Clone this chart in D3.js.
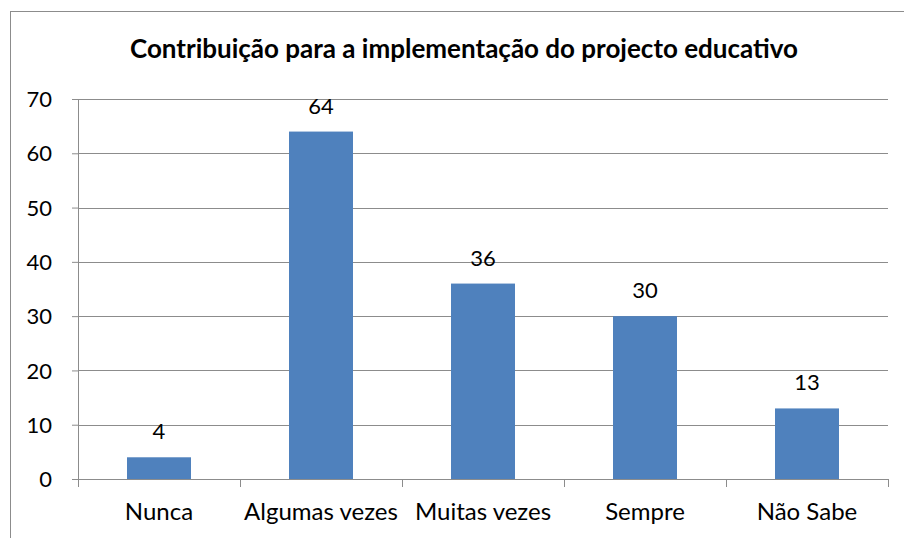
<!DOCTYPE html>
<html>
<head>
<meta charset="utf-8">
<script src="https://cdn.jsdelivr.net/npm/d3@7"></script>
<style>
  body { margin: 0; background: #fff; }
  text { font-family: Lato, "Open Sans", sans-serif; fill: #000; }
</style>
</head>
<body>
<svg id="chart"></svg>
<script>
const categories = ["Nunca", "Algumas vezes", "Muitas vezes", "Sempre", "Não Sabe"];
const values = [4, 64, 36, 30, 13];
const yTicks = [0, 10, 20, 30, 40, 50, 60, 70];
const title = "Contribuição para a implementação do projecto educativo";

const data = categories.map((c, i) => ({ category: c, value: values[i] }));

const W = 904, H = 538;
const margin = { top: 99, right: 16, bottom: 59, left: 78 },
      width = W - margin.left - margin.right,
      height = H - margin.top - margin.bottom;

const svgRoot = d3.select("#chart").attr("width", W).attr("height", H);

// outer chart frame (runs off the right and bottom edge)
svgRoot.append("rect")
    .attr("x", 10.5).attr("y", 11.5)
    .attr("width", W + 20).attr("height", H + 20)
    .attr("fill", "none")
    .attr("stroke", "#8c8c8c");

const svg = svgRoot.append("g")
    .attr("transform", `translate(${margin.left},${margin.top})`);

const xScale = d3.scaleBand()
    .domain(categories)
    .range([0, width])
    .paddingInner(0.605)
    .paddingOuter(0.3025);

const yScale = d3.scaleLinear()
    .domain([0, 70])
    .range([height, 0]);

// gridlines
svg.append("g")
    .selectAll("line")
    .data(yTicks.filter(d => d > 0))
    .enter().append("line")
    .attr("x1", 0).attr("x2", width)
    .attr("y1", d => Math.round(yScale(d)) + 0.5)
    .attr("y2", d => Math.round(yScale(d)) + 0.5)
    .attr("stroke", "#8c8c8c");

// bars
svg.selectAll(".bar")
    .data(data)
    .enter().append("rect")
    .attr("class", "bar")
    .attr("x", d => xScale(d.category))
    .attr("y", d => yScale(d.value))
    .attr("width", xScale.bandwidth())
    .attr("height", d => height - yScale(d.value))
    .attr("fill", "#4f81bd");

// value labels
svg.selectAll(".label")
    .data(data)
    .enter().append("text")
    .attr("class", "label")
    .attr("x", d => xScale(d.category) + xScale.bandwidth() / 2)
    .attr("y", d => yScale(d.value) - 18)
    .attr("text-anchor", "middle")
    .style("font-size", "22px")
    .text(d => d.value);

// y axis
const yAxis = svg.append("g")
    .call(d3.axisLeft(yScale).tickValues(yTicks).tickSize(6).tickPadding(20));
yAxis.selectAll("text").style("font-size", "22px").attr("dy", "0.35em");
yAxis.selectAll("line, path").attr("stroke", "#8c8c8c");
yAxis.select("path").attr("d", `M0.5,${height}V0`);

// x axis with ticks between categories
const xAxis = svg.append("g")
    .attr("transform", `translate(0,${height})`);
xAxis.append("line")
    .attr("x1", -6).attr("x2", width)
    .attr("y1", 0.5).attr("y2", 0.5)
    .attr("stroke", "#8c8c8c");
xAxis.selectAll(".sep")
    .data(d3.range(categories.length + 1))
    .enter().append("line")
    .attr("x1", i => Math.round(i * width / categories.length) + 0.5)
    .attr("x2", i => Math.round(i * width / categories.length) + 0.5)
    .attr("y1", 0).attr("y2", 8)
    .attr("stroke", "#8c8c8c");
xAxis.selectAll(".cat")
    .data(categories)
    .enter().append("text")
    .attr("x", d => xScale(d) + xScale.bandwidth() / 2)
    .attr("y", 41)
    .attr("text-anchor", "middle")
    .style("font-size", "24px")
    .text(d => d);

// title
svgRoot.append("text")
    .attr("x", 464)
    .attr("y", 58)
    .attr("text-anchor", "middle")
    .style("font-size", "26px")
    .style("font-weight", "bold")
    .text(title);
</script>
</body>
</html>
